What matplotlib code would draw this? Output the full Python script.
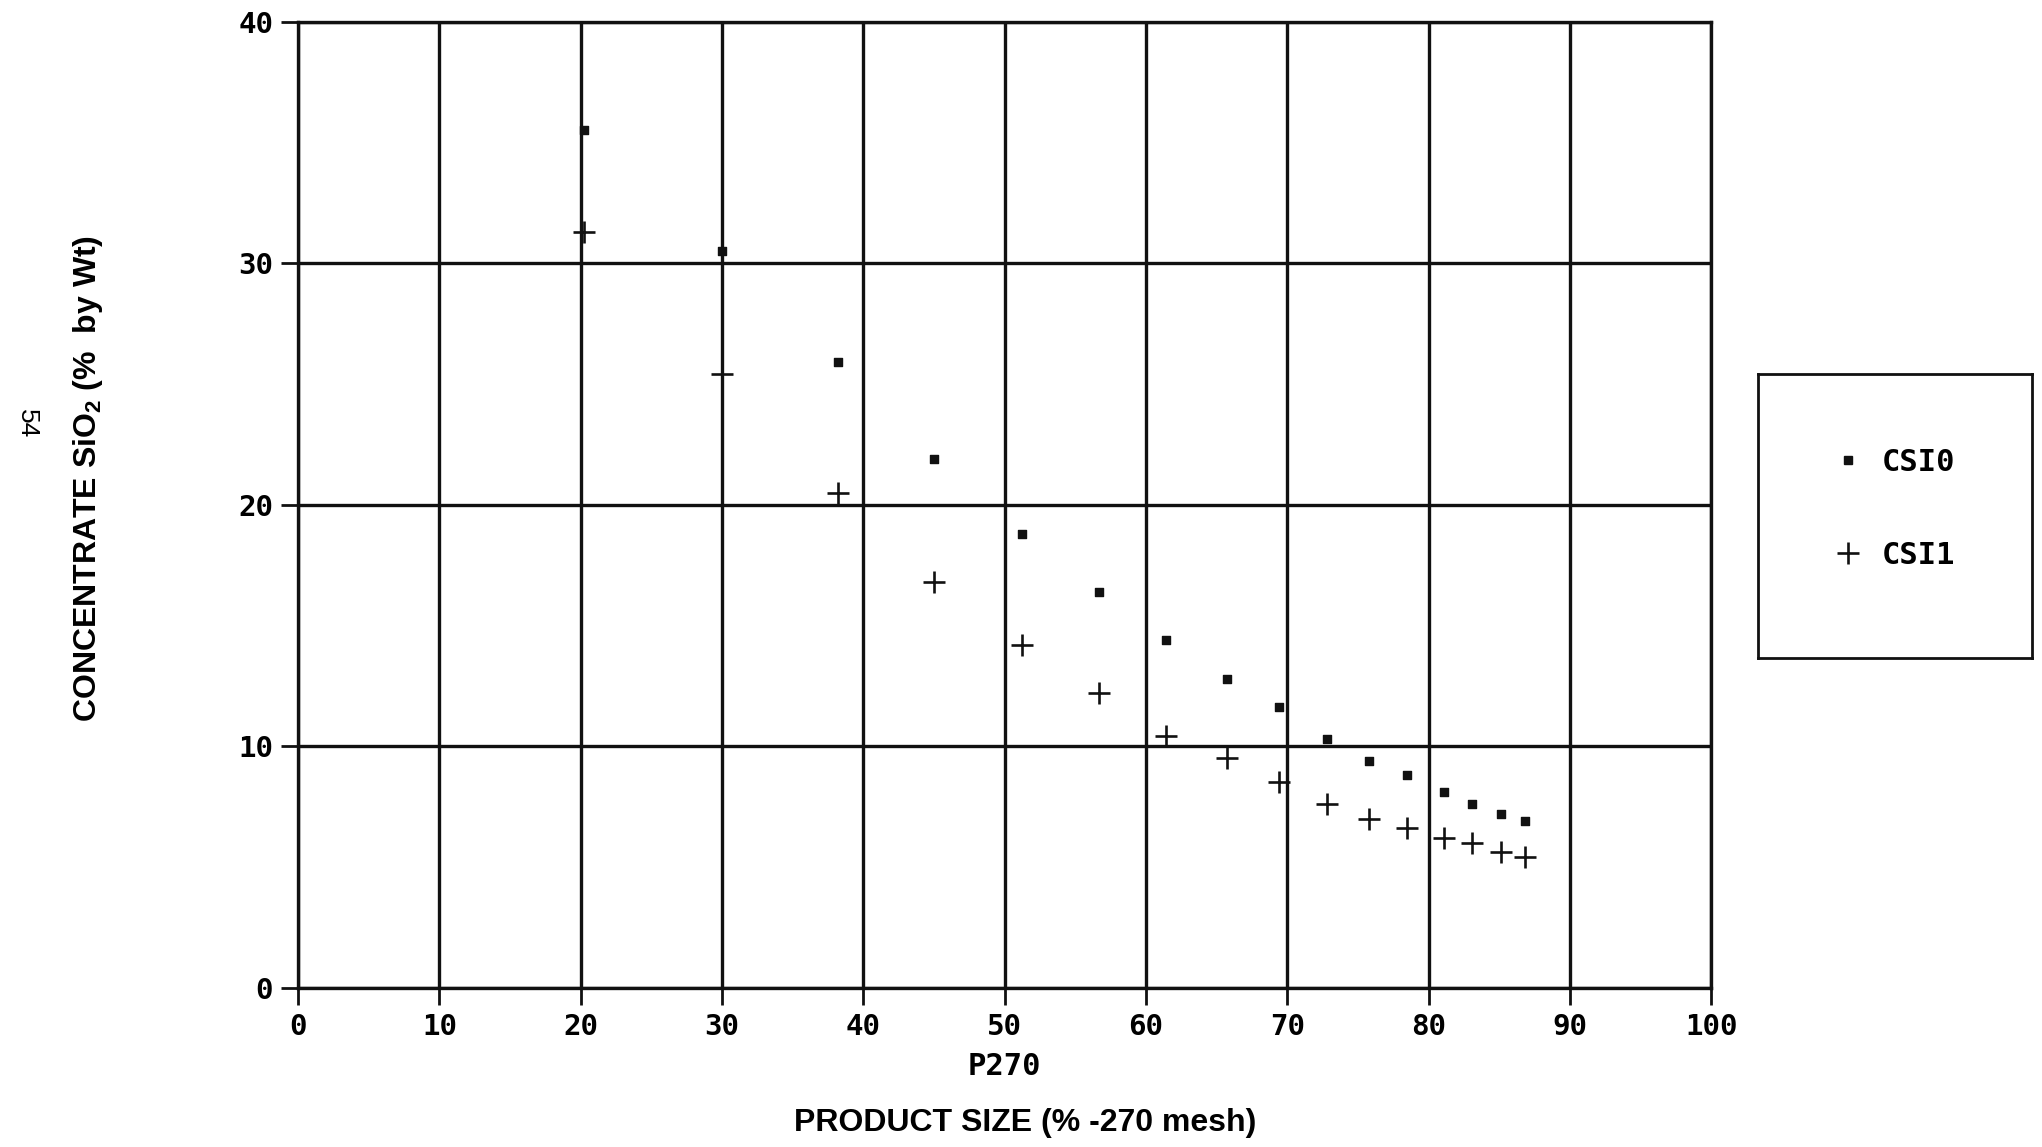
import matplotlib
matplotlib.use("Agg")
import matplotlib.pyplot as plt
from matplotlib.lines import Line2D

# product size, % passing 270 mesh
p270 = [20.2, 30.0, 38.2, 45.0, 51.2, 56.7, 61.4, 65.7, 69.4, 72.8,
        75.8, 78.5, 81.1, 83.1, 85.1, 86.8]
# concentrate SiO2 (% by wt)
csi0 = [35.5, 30.5, 25.9, 21.9, 18.8, 16.4, 14.4, 12.8, 11.6, 10.3,
        9.4, 8.8, 8.1, 7.6, 7.2, 6.9]
csi1 = [31.3, 25.4, 20.5, 16.8, 14.2, 12.2, 10.4, 9.5, 8.5, 7.6,
        7.0, 6.6, 6.2, 6.0, 5.6, 5.4]

xticks = [0, 10, 20, 30, 40, 50, 60, 70, 80, 90, 100]
yticks = [0, 10, 20, 30, 40]

MONO = "DejaVu Sans Mono"
SANS = "Liberation Sans"

fig = plt.figure(figsize=(20.42, 11.47), dpi=100)
ax = fig.add_axes([0.146, 0.139, 0.692, 0.842])

ax.scatter(p270, csi0, marker="s", s=30, color="#111111", zorder=3)
ax.scatter(p270, csi1, marker="+", s=230, linewidths=1.9, color="#111111", zorder=3)

ax.set_xlim(0, 100)
ax.set_ylim(0, 40)
ax.set_xticks(xticks)
ax.set_yticks(yticks)
ax.grid(True, color="#111111", linewidth=2.4)
ax.set_axisbelow(True)
for sp in ax.spines.values():
    sp.set_color("#111111")
    sp.set_linewidth(2.4)
ax.tick_params(direction="out", length=12, width=2, color="#111111", pad=6)
for lab in ax.get_xticklabels() + ax.get_yticklabels():
    lab.set_fontfamily(MONO)
    lab.set_fontweight("bold")
    lab.set_fontsize(21)

ax.set_xlabel("P270", fontfamily=MONO, fontweight="bold", fontsize=22, labelpad=8)

fig.text(0.502, 0.021, "PRODUCT SIZE (% -270 mesh)", ha="center", va="center",
         fontfamily=SANS, fontweight="bold", fontsize=23)
fig.text(0.043, 0.583, "CONCENTRATE SiO$_\\mathregular{2}$ (%  by Wt)", ha="center", va="center",
         rotation=90, fontfamily=SANS, fontweight="bold", fontsize=23)
fig.text(0.013, 0.631, "54", ha="center", va="center", rotation=-90,
         fontfamily=SANS, fontsize=19)

# legend box
lax = fig.add_axes([0.861, 0.426, 0.134, 0.248])
lax.set_xticks([])
lax.set_yticks([])
for sp in lax.spines.values():
    sp.set_linewidth(2)
    sp.set_color("#111111")
handles = [
    Line2D([], [], linestyle="none", marker="s", markersize=6, color="#111111"),
    Line2D([], [], linestyle="none", marker="+", markersize=16, markeredgewidth=1.9, color="#111111"),
]
lax.legend(handles, ["CSI0", "CSI1"], loc="center", frameon=False, labelspacing=2.1,
           handletextpad=0.1, bbox_to_anchor=(0.47, 0.525),
           prop={"family": MONO, "weight": "bold", "size": 22})

fig.savefig("out.png", dpi=100)
